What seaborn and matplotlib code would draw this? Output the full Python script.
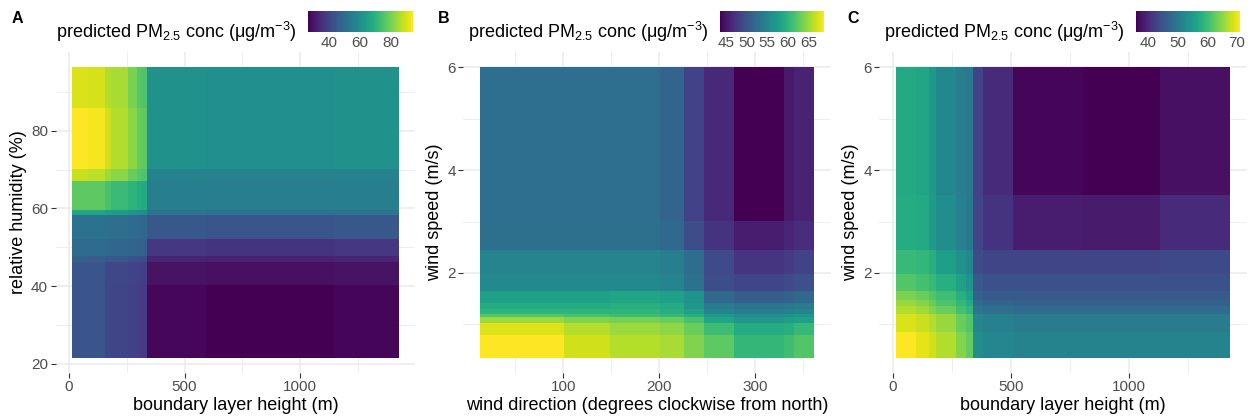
import numpy as np
import pandas as pd
import matplotlib
matplotlib.use("Agg")
import matplotlib.pyplot as plt
import seaborn as sns

# ---------------------------------------------------------------
# Partial-dependence surfaces of predicted PM2.5 (ug/m3).
# Each surface is stored as block edges along x and y plus the
# block values (rows run from the lowest y band to the highest).
# ---------------------------------------------------------------

# A: boundary layer height (m) vs relative humidity (%)
blh_edges_a = [13, 84, 153, 177, 260, 289, 317, 343, 600, 1150, 1428]
rh_edges_a = [21.5, 40, 46.5, 47.8, 52, 58.2, 59.7, 67, 70, 86.2, 96.4]
pm_a = [
    [44.0, 44.0, 41.0, 40.0, 39.0, 38.5, 38.0, 27.3, 26.2, 27.0],
    [44.0, 44.0, 41.0, 40.5, 39.5, 39.0, 38.5, 29.5, 29.0, 29.5],
    [46.5, 46.0, 45.0, 44.5, 43.0, 42.5, 42.0, 33.0, 32.5, 33.0],
    [49.5, 49.5, 49.0, 48.5, 48.0, 47.5, 47.0, 37.0, 36.0, 37.0],
    [51.5, 51.5, 51.0, 50.5, 49.5, 49.0, 48.5, 44.5, 44.0, 44.5],
    [66.0, 66.0, 64.0, 63.0, 61.0, 60.0, 59.0, 52.0, 51.5, 52.0],
    [77.0, 77.0, 74.0, 72.0, 70.0, 68.0, 67.0, 55.0, 54.5, 55.0],
    [88.0, 87.0, 84.0, 82.0, 78.0, 76.0, 75.0, 56.5, 56.0, 56.5],
    [93.8, 93.0, 89.0, 86.0, 82.0, 78.0, 77.0, 60.0, 59.5, 60.0],
    [90.0, 89.5, 86.0, 85.0, 80.0, 76.0, 75.0, 60.0, 59.5, 60.0],
]

# B: wind direction (deg) vs wind speed (m/s)
wd_edges_b = [13.5, 102, 150, 200, 225, 246, 279, 328, 340, 361]
ws_edges_b = [0.35, 0.8, 1.01, 1.12, 1.22, 1.33, 1.44, 1.67, 2.0, 2.45, 3.0, 6.0]
pm_b = [
    [68.8, 67.0, 66.0, 65.5, 64.0, 62.5, 60.3, 61.0, 62.0],
    [67.5, 66.0, 65.0, 64.5, 63.0, 61.0, 59.0, 59.5, 60.5],
    [65.0, 64.0, 63.5, 63.0, 61.5, 58.5, 57.0, 57.5, 58.0],
    [62.0, 61.5, 61.0, 60.5, 59.5, 57.0, 55.8, 56.3, 56.8],
    [60.0, 60.0, 60.0, 59.5, 58.0, 55.0, 54.0, 54.5, 55.0],
    [59.0, 59.0, 59.5, 59.0, 57.0, 54.0, 53.3, 53.6, 54.0],
    [58.0, 58.0, 58.5, 58.0, 56.5, 52.0, 51.0, 51.5, 52.0],
    [55.5, 55.5, 55.5, 55.0, 53.0, 49.5, 48.8, 49.3, 49.8],
    [55.0, 55.0, 55.0, 54.3, 52.5, 49.3, 47.5, 48.0, 48.6],
    [52.8, 52.8, 52.8, 52.0, 49.5, 47.3, 45.5, 46.2, 46.8],
    [52.6, 52.6, 52.6, 51.6, 48.6, 46.5, 43.6, 45.3, 46.0],
]

# C: boundary layer height (m) vs wind speed (m/s)
blh_edges_c = [13, 100, 150, 185, 263, 312, 344, 380, 508, 800, 1131, 1428]
ws_edges_c = [0.35, 0.86, 1.22, 1.35, 1.48, 1.67, 2.0, 2.45, 3.5, 6.0]
pm_c = [
    [71.0, 69.5, 68.5, 67.0, 64.5, 62.5, 53.0, 52.0, 51.5, 51.5, 51.5],
    [69.0, 68.0, 67.0, 65.5, 63.0, 61.5, 52.0, 51.0, 50.5, 50.5, 50.5],
    [67.0, 66.0, 64.5, 63.0, 60.5, 59.0, 49.5, 48.5, 48.0, 48.0, 48.0],
    [65.5, 64.5, 63.0, 61.0, 59.0, 57.5, 48.0, 47.0, 46.5, 46.5, 46.5],
    [64.0, 63.0, 61.5, 60.0, 58.0, 56.0, 46.5, 45.5, 45.5, 45.5, 45.5],
    [61.5, 60.5, 59.5, 58.0, 56.0, 54.0, 45.5, 44.5, 44.5, 44.5, 44.5],
    [59.5, 59.0, 58.0, 55.5, 53.5, 52.0, 44.0, 43.0, 43.0, 43.0, 43.5],
    [57.5, 57.0, 55.0, 53.0, 51.0, 50.0, 43.0, 41.0, 38.5, 38.3, 40.0],
    [57.0, 56.5, 54.8, 52.3, 50.9, 49.8, 42.7, 40.0, 36.3, 35.8, 37.3],
]

# axis ticks and labels
blh_ticks = [0, 500, 1000]
blh_minor = [250, 750, 1250]
rh_ticks = [20, 40, 60, 80]
rh_minor = [30, 50, 70, 90]
wd_ticks = [100, 200, 300]
wd_minor = [50, 150, 250, 350]
ws_ticks = [2, 4, 6]
ws_minor = [1, 3, 5]
cbar_ticks_a = [40, 60, 80]
cbar_ticks_b = [45, 50, 55, 60, 65]
cbar_ticks_c = [40, 50, 60, 70]

xlabel_blh = "boundary layer height (m)"
xlabel_wd = "wind direction (degrees clockwise from north)"
ylabel_rh = "relative humidity (%)"
ylabel_ws = "wind speed (m/s)"
legend_title = r"predicted PM$_{\mathrm{2.5}}$ conc (μg/m$^{\mathrm{-3}}$)"

NGRID = 100


def surface_frame(x_edges, y_edges, values, n=NGRID):
    """Sample the block surface on an n x n grid; top row = highest y."""
    xe = np.asarray(x_edges, float)
    ye = np.asarray(y_edges, float)
    xs = np.linspace(xe[0], xe[-1], n + 1)
    ys = np.linspace(ye[0], ye[-1], n + 1)
    xc = 0.5 * (xs[:-1] + xs[1:])
    yc = 0.5 * (ys[:-1] + ys[1:])
    ix = np.clip(np.searchsorted(xe, xc, side="right") - 1, 0, len(xe) - 2)
    iy = np.clip(np.searchsorted(ye, yc, side="right") - 1, 0, len(ye) - 2)
    grid = np.asarray(values, float)[iy][:, ix]
    return pd.DataFrame(grid[::-1], index=np.round(yc[::-1], 3),
                        columns=np.round(xc, 2))


sns.set_theme(style="white")
plt.rcParams["font.family"] = ["Liberation Sans", "DejaVu Sans"]
plt.rcParams["mathtext.fontset"] = "custom"
plt.rcParams["mathtext.rm"] = "Liberation Sans"
plt.rcParams["mathtext.it"] = "Liberation Sans:italic"
plt.rcParams["mathtext.bf"] = "Liberation Sans:bold"

W, H = 1257, 419
fig = plt.figure(figsize=(W / 100, H / 100), dpi=100)


def fx(px):
    return px / W


def fy(px):
    return 1 - px / H


panels = [
    dict(tag="A", x_edges=blh_edges_a, y_edges=rh_edges_a, vals=pm_a,
         xt=blh_ticks, xm=blh_minor, yt=rh_ticks, ym=rh_minor,
         xlabel=xlabel_blh, ylabel=ylabel_rh, cticks=cbar_ticks_a,
         ax_px=(55.6, 415.4), cb_px=(307.7, 412.7), tag_x=12),
    dict(tag="B", x_edges=wd_edges_b, y_edges=ws_edges_b, vals=pm_b,
         xt=wd_ticks, xm=wd_minor, yt=ws_ticks, ym=ws_minor,
         xlabel=xlabel_wd, ylabel=ylabel_ws, cticks=cbar_ticks_b,
         ax_px=(463.3, 830.7), cb_px=(720.0, 824.3), tag_x=438),
    dict(tag="C", x_edges=blh_edges_c, y_edges=ws_edges_c, vals=pm_c,
         xt=blh_ticks, xm=blh_minor, yt=ws_ticks, ym=ws_minor,
         xlabel=xlabel_blh, ylabel=ylabel_ws, cticks=cbar_ticks_c,
         ax_px=(879.3, 1246.7), cb_px=(1136.0, 1240.0), tag_x=847),
]

top_px, bot_px = 52.5, 372.5
cb_top, cb_bot = 10.7, 31.7
grid_col = "#ebebeb"
txt_col = "#4d4d4d"

for p in panels:
    l, r = p["ax_px"]
    ax = fig.add_axes([fx(l), fy(bot_px), fx(r - l), (bot_px - top_px) / H])
    cl, cr = p["cb_px"]
    cax = fig.add_axes([fx(cl), fy(cb_bot), fx(cr - cl), (cb_bot - cb_top) / H])

    df = surface_frame(p["x_edges"], p["y_edges"], p["vals"])
    sns.heatmap(df, ax=ax, cmap="viridis", cbar_ax=cax,
                xticklabels=False, yticklabels=False,
                cbar_kws=dict(orientation="horizontal", ticks=p["cticks"]))

    x0, x1 = p["x_edges"][0], p["x_edges"][-1]
    y0, y1 = p["y_edges"][0], p["y_edges"][-1]
    n = NGRID

    def xpos(v):
        return (v - x0) / (x1 - x0) * n

    def ypos(v):
        return (y1 - v) / (y1 - y0) * n

    ax.set_xlim(-0.05 * n, 1.05 * n)
    ax.set_ylim(1.05 * n, -0.05 * n)
    ax.set_xticks([xpos(v) for v in p["xt"]])
    ax.set_xticklabels([str(v) for v in p["xt"]], rotation=0)
    ax.set_xticks([xpos(v) for v in p["xm"]], minor=True)
    ax.set_yticks([ypos(v) for v in p["yt"]])
    ax.set_yticklabels([str(v) for v in p["yt"]], rotation=0)
    ax.set_yticks([ypos(v) for v in p["ym"]], minor=True)
    ax.set_axisbelow(True)
    ax.grid(which="major", color=grid_col, linewidth=1.1)
    ax.grid(which="minor", color=grid_col, linewidth=0.6)
    ax.tick_params(which="major", length=3.5, width=0.8, color="#333333",
                   labelcolor=txt_col, labelsize=11, pad=2,
                   bottom=True, left=True)
    ax.tick_params(which="minor", length=0)
    ax.set_xlabel(p["xlabel"], fontsize=13, color="black", labelpad=2)
    ax.set_ylabel(p["ylabel"], fontsize=13, color="black", labelpad=3)
    for s in ax.spines.values():
        s.set_visible(False)

    # colourbar: no frame, white ticks inside the bar
    cb = ax.collections[0].colorbar
    cb.outline.set_visible(False)
    cax.tick_params(axis="x", which="major", direction="in", length=4,
                    width=0.8, color="white", top=True, bottom=True,
                    labelcolor=txt_col, labelsize=11, pad=3)
    cax.tick_params(axis="x", which="minor", length=0)

    fig.text(fx(cl - 11), fy(38.5), legend_title, ha="right", va="baseline",
             fontsize=13, color="black")
    fig.text(fx(p["tag_x"]), fy(23), p["tag"], ha="left", va="baseline",
             fontsize=11.5, fontweight="bold", color="black")

fig.savefig("out.png", dpi=100)
